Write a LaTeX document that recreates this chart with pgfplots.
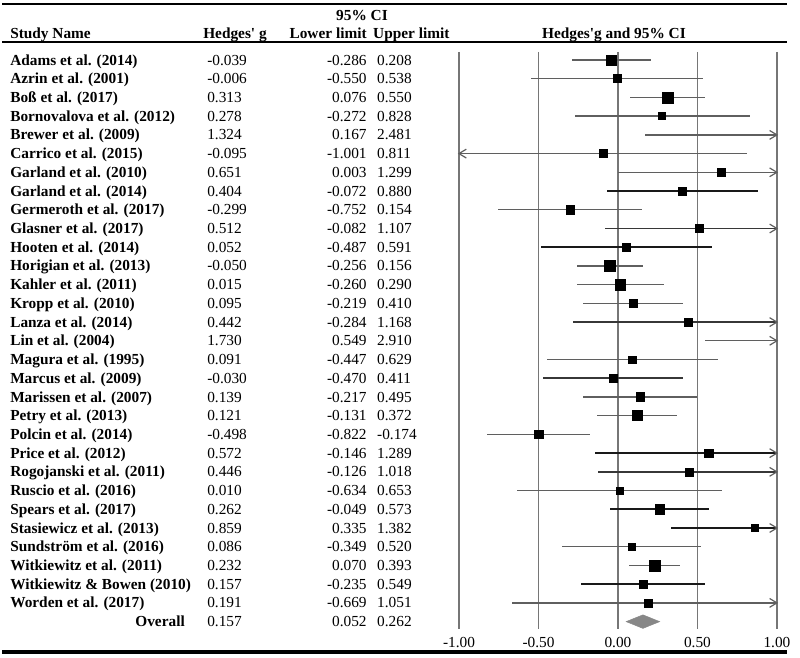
\documentclass[border=0pt]{standalone}
\usepackage{fontspec}
\setmainfont{Liberation Serif}
\usepackage{pgfplots}
\usepackage{pgfplotstable}
\pgfplotsset{compat=1.18}
\definecolor{gridGray}{RGB}{118,118,118}
\definecolor{thinGray}{RGB}{95,95,95}
\definecolor{midGray}{RGB}{55,55,55}
\definecolor{thickGray}{RGB}{25,25,25}
\definecolor{diamondGray}{RGB}{135,135,135}
\pgfdeclareplotmark{nothing}{}
\pgfdeclareplotmark{rarr}{%
  \pgfpathmoveto{\pgfpoint{-5.5pt}{3.3pt}}%
  \pgfpathlineto{\pgfpoint{0pt}{0pt}}%
  \pgfpathlineto{\pgfpoint{-5.5pt}{-3.3pt}}%
  \pgfusepathqstroke}
\pgfdeclareplotmark{larr}{%
  \pgfpathmoveto{\pgfpoint{5.5pt}{3.3pt}}%
  \pgfpathlineto{\pgfpoint{0pt}{0pt}}%
  \pgfpathlineto{\pgfpoint{5.5pt}{-3.3pt}}%
  \pgfusepathqstroke}
\pgfplotstableread[col sep=comma]{
row,name,g,lo,hi,sz,lw
1,Adams et al. (2014),-0.039,-0.286,0.208,3.75,0
2,Azrin et al. (2001),-0.006,-0.550,0.538,3.0,0
3,Boß et al. (2017),0.313,0.076,0.550,4.1,0
4,Bornovalova et al. (2012),0.278,-0.272,0.828,2.6,0
5,Brewer et al. (2009),1.324,0.167,2.481,3.0,0
6,Carrico et al. (2015),-0.095,-1.001,0.811,3.0,0
7,Garland et al. (2010),0.651,0.003,1.299,3.0,0
8,Garland et al. (2014),0.404,-0.072,0.880,3.2,2
9,Germeroth et al. (2017),-0.299,-0.752,0.154,3.2,0
10,Glasner et al. (2017),0.512,-0.082,1.107,3.2,1
11,Hooten et al. (2014),0.052,-0.487,0.591,3.2,2
12,Horigian et al. (2013),-0.050,-0.256,0.156,4.2,0
13,Kahler et al. (2011),0.015,-0.260,0.290,3.9,0
14,Kropp et al. (2010),0.095,-0.219,0.410,3.2,0
15,Lanza et al. (2014),0.442,-0.284,1.168,3.0,1
16,Lin et al. (2004),1.730,0.549,2.910,3.0,0
17,Magura et al. (1995),0.091,-0.447,0.629,2.8,0
18,Marcus et al. (2009),-0.030,-0.470,0.411,2.8,1
19,Marissen et al. (2007),0.139,-0.217,0.495,3.2,0
20,Petry et al. (2013),0.121,-0.131,0.372,3.75,0
21,Polcin et al. (2014),-0.498,-0.822,-0.174,3.2,0
22,Price et al. (2012),0.572,-0.146,1.289,3.2,2
23,Rogojanski et al. (2011),0.446,-0.126,1.018,3.0,1
24,Ruscio et al. (2016),0.010,-0.634,0.653,2.8,0
25,Spears et al. (2017),0.262,-0.049,0.573,3.55,2
26,Stasiewicz et al. (2013),0.859,0.335,1.382,2.8,2
27,Sundström et al. (2016),0.086,-0.349,0.520,2.8,0
28,Witkiewitz et al. (2011),0.232,0.070,0.393,4.2,0
29,Witkiewitz \& Bowen (2010),0.157,-0.235,0.549,3.0,2
30,Worden et al. (2017),0.191,-0.669,1.051,3.0,0
}\studies
\pgfplotsset{
  ci/.style n args={2}{only marks, mark=nothing, forget plot,
    error bars/.cd, x dir=both, x explicit, error mark=none,
    error bar style={line width=#1, color=#2}},
  txt/.style={only marks, mark=nothing, point meta=explicit symbolic,
    nodes near coords={\pgfplotspointmeta},
    nodes near coords style={anchor=#1, inner sep=0pt}},
}
\begin{document}
\fontsize{11.5}{14}\selectfont
\begin{tikzpicture}
\begin{axis}[
  scale only axis, width=238.5pt, height=432.9pt,
  xmin=-1, xmax=1, ymin=0.57, ymax=31.4, y dir=reverse,
  clip=false,
  axis line style={draw=none},
  xtick={-1,-0.5,0,0.5,1},
  xticklabels={-1.00,-0.50,0.00,0.50,1.00},
  xticklabel style={yshift=-2pt},
  ytick=\empty,
  major tick length=0pt,
  xmajorgrids,
  major grid style={line width=0.9pt, color=gridGray},
]
% confidence intervals (clipped to the axis range)
\addplot[ci={1pt}{thinGray}] table[
  x expr={(max(\thisrow{lo},-1)+min(\thisrow{hi},1))/2},
  y expr={\thisrow{lw}==0 ? \thisrow{row} : nan},
  x error expr={(min(\thisrow{hi},1)-max(\thisrow{lo},-1))/2}] {\studies};
\addplot[ci={1.3pt}{midGray}] table[
  x expr={(max(\thisrow{lo},-1)+min(\thisrow{hi},1))/2},
  y expr={\thisrow{lw}==1 ? \thisrow{row} : nan},
  x error expr={(min(\thisrow{hi},1)-max(\thisrow{lo},-1))/2}] {\studies};
\addplot[ci={1.65pt}{thickGray}] table[
  x expr={(max(\thisrow{lo},-1)+min(\thisrow{hi},1))/2},
  y expr={\thisrow{lw}==2 ? \thisrow{row} : nan},
  x error expr={(min(\thisrow{hi},1)-max(\thisrow{lo},-1))/2}] {\studies};
% arrows for intervals beyond the range
\addplot[only marks, mark=rarr, mark options={draw=thinGray, line width=0.9pt}]
  table[x expr=1, y expr={\thisrow{hi}>1 ? \thisrow{row} : nan}] {\studies};
\addplot[only marks, mark=larr, mark options={draw=thinGray, line width=0.9pt}]
  table[x expr=-1, y expr={\thisrow{lo}<-1 ? \thisrow{row} : nan}] {\studies};
% point estimates
\addplot[scatter, only marks, mark=square*,
  restrict x to domain=-1:1,
  point meta=explicit,
  scatter/use mapped color={draw=black, fill=black},
  visualization depends on={\thisrow{sz} \as \msz},
  scatter/@pre marker code/.append style={/tikz/mark size=\msz}]
  table[x=g, y=row, meta=sz] {\studies};
% overall diamond
\addplot[fill=diamondGray, draw=diamondGray] coordinates
  {(0.052,31) (0.157,30.64) (0.262,31) (0.157,31.36)} -- cycle;
% table text
\addplot[txt=base west, nodes near coords={\bfseries\pgfplotspointmeta}]
  table[x expr=-3.824, y expr=\thisrow{row}+0.27, meta=name] {\studies};
\addplot[txt=base west]
  table[x expr=-2.585, y expr=\thisrow{row}+0.27, meta=g] {\studies};
\addplot[txt=base east]
  table[x expr=-1.579, y expr=\thisrow{row}+0.27, meta=lo] {\studies};
\addplot[txt=base west]
  table[x expr=-1.516, y expr=\thisrow{row}+0.27, meta=hi] {\studies};
% overall row
\node[anchor=base east, inner sep=0pt, font=\bfseries] at (axis cs:-2.723,31.27) {Overall};
\node[anchor=base west, inner sep=0pt] at (axis cs:-2.585,31.27) {0.157};
\node[anchor=base east, inner sep=0pt] at (axis cs:-1.579,31.27) {0.052};
\node[anchor=base west, inner sep=0pt] at (axis cs:-1.516,31.27) {0.262};
% headers
\node[anchor=base, inner sep=0pt, font=\bfseries] at (axis cs:-1.610,-1.13) {95\% CI};
\node[anchor=base west, inner sep=0pt, font=\bfseries] at (axis cs:-3.824,-0.17) {Study Name};
\node[anchor=base west, inner sep=0pt, font=\bfseries] at (axis cs:-2.610,-0.17) {Hedges\textquotesingle{} g};
\node[anchor=base east, inner sep=0pt, font=\bfseries] at (axis cs:-1.579,-0.17) {Lower limit};
\node[anchor=base west, inner sep=0pt, font=\bfseries] at (axis cs:-1.541,-0.17) {Upper limit};
\node[anchor=base, inner sep=0pt, font=\bfseries] at (axis cs:-0.025,-0.17) {Hedges\textquotesingle g and 95\% CI};
% rules
\draw[line width=2.2pt] (axis cs:-3.874,-1.99) -- (axis cs:1.063,-1.99);
\draw[line width=1.6pt] (axis cs:-3.874,0.04) -- (axis cs:1.063,0.04);
\draw[line width=2.4pt] (axis cs:-3.874,32.62) -- (axis cs:1.063,32.62);
% canvas extent
\path (axis cs:-3.887,-2.205) rectangle (axis cs:1.145,32.94);
\end{axis}
\end{tikzpicture}
\end{document}
